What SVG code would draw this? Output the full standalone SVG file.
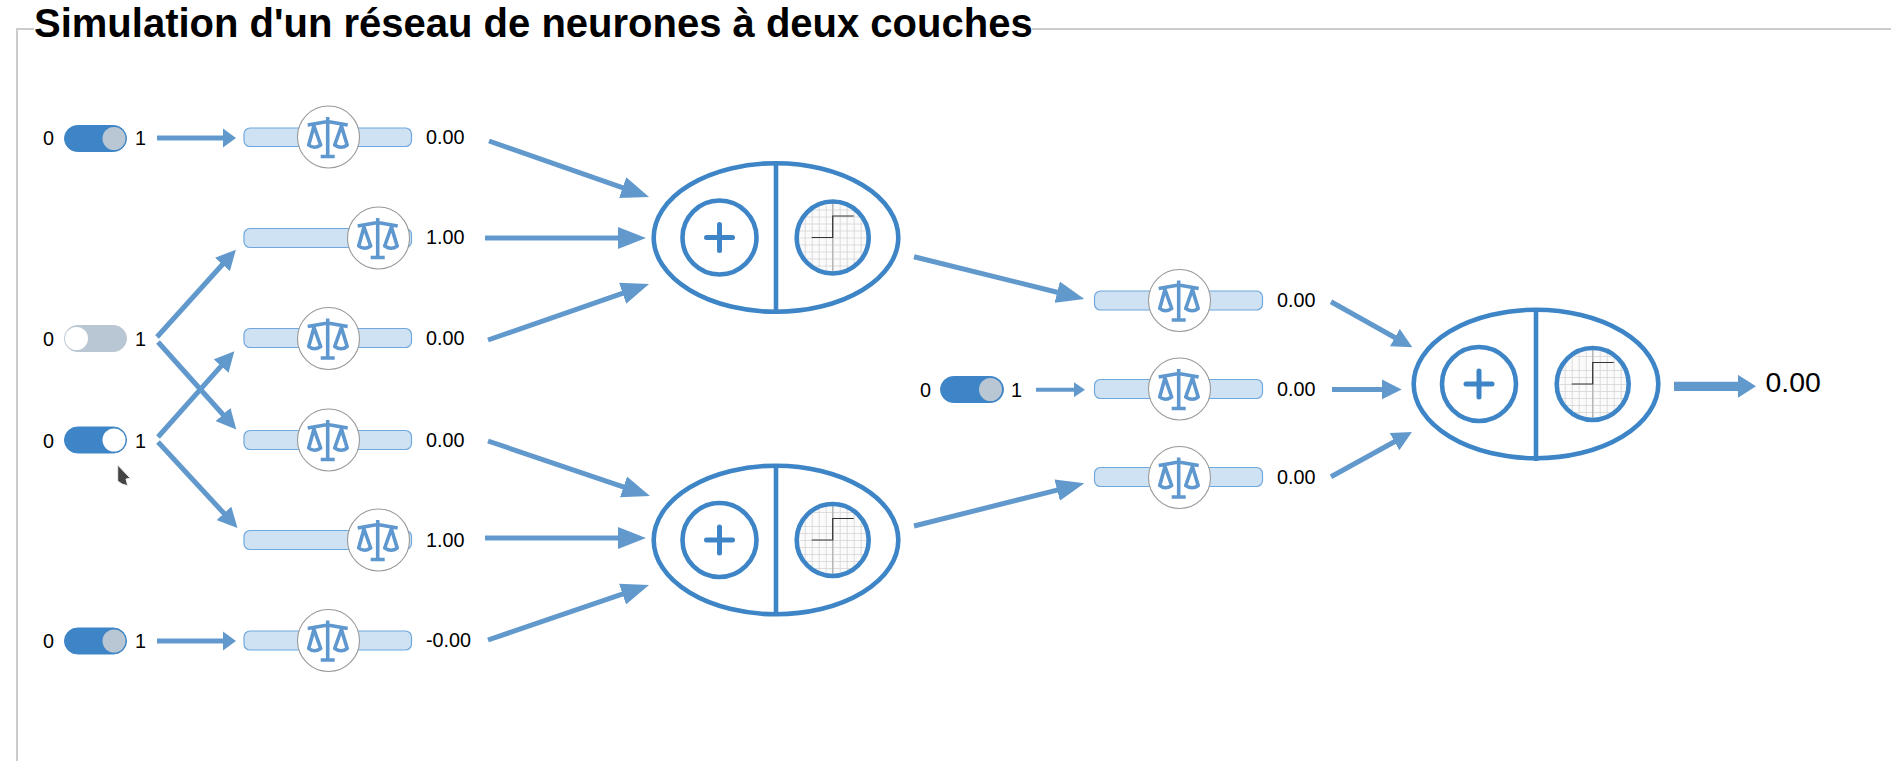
<svg xmlns="http://www.w3.org/2000/svg" width="1891" height="761" viewBox="0 0 1891 761">
<style>
text{font-family:"Liberation Sans",Arial,sans-serif;fill:#000}
.title{font-size:40px;font-weight:700}
.t{font-size:19.8px}
.big{font-size:28.400px}
.frame{fill:none;stroke:#ccc;stroke-width:2}
.wire{fill:none;stroke:#6299cd;stroke-width:5}
.track{fill:#cfe2f3;stroke:#6fa8dc;stroke-width:1.200}
.knob{fill:#fff;stroke:#999;stroke-width:1.100}
.scale{fill:none;stroke:#5f97cf;stroke-width:3.600;stroke-linejoin:round}
.n{fill:none;stroke:#3d85c6;stroke-width:4.600}
.tg-on{fill:#3d85c6;stroke:#3d85c6;stroke-width:1}
.tg-off{fill:#b9c6d3;stroke:#b9c6d3;stroke-width:1}
</style>
<defs>
<marker id="long" markerUnits="userSpaceOnUse" markerWidth="28" markerHeight="22" refX="2" refY="11" orient="auto"><path d="M0 0L28 11L0 22Z" fill="#6299cd"/></marker>
<marker id="mid" markerUnits="userSpaceOnUse" markerWidth="20" markerHeight="20" refX="2" refY="10" orient="auto"><path d="M0 0L20 10L0 20Z" fill="#6299cd"/></marker>
<marker id="hor" markerUnits="userSpaceOnUse" markerWidth="13.500" markerHeight="20" refX="2" refY="10" orient="auto"><path d="M0 .2L13.500 10L0 19.800Z" fill="#6299cd"/></marker>
<marker id="small" markerUnits="userSpaceOnUse" markerWidth="11" markerHeight="15" refX="2" refY="7.500" orient="auto"><path d="M0 0L11 7.500L0 15Z" fill="#6299cd"/></marker>
<marker id="out" markerUnits="userSpaceOnUse" markerWidth="18" markerHeight="23" refX="2" refY="11.500" orient="auto"><path d="M0 0L18 11.500L0 23Z" fill="#6299cd"/></marker>
<pattern id="grid" patternUnits="userSpaceOnUse" width="7" height="7"><rect width="7" height="7" fill="#fbfbfb"/><path d="M0 0H7M0 0V7" stroke="#d4d4d4" stroke-width="1.600" fill="none"/></pattern>
<symbol id="scales" overflow="visible">
<path class="scale" d="M0-20V19.500M-7 19.500H7M-20-12L0-15.500L20-12M-13.700-11L-19 8Q-13.700 12.500-7 8ZM13.700-11L7 8Q13.700 12.500 19.500 8Z"/>
</symbol>
<g id="sum">
<circle r="37" class="n"/>
<path d="M-13 0H13M0-13V13" stroke="#3d85c6" stroke-width="5" stroke-linecap="round"/>
</g>
<g id="step">
<circle r="36" fill="url(#grid)"/>
<path d="M0-36V36" stroke="#b4b4b4" stroke-width="1.300"/>
<path d="M-21 0H0V-21.500H21" fill="none" stroke="#333" stroke-width="1.200"/>
<circle r="36" class="n"/>
</g>
</defs>

<path class="frame" d="M34 29H17V761M1032 29H1891"/>
<text class="title" x="34" y="37">Simulation d'un réseau de neurones à deux couches</text>

<g id="connectors">
<path class="wire" marker-end="url(#hor)" d="M157 138H224.500"/>
<path class="wire" marker-end="url(#hor)" d="M157 641H224.500"/>
<path class="wire" marker-end="url(#mid)" d="M157 337L223.800 263"/>
<path class="wire" marker-end="url(#mid)" d="M158 342L224.300 416"/>
<path class="wire" marker-end="url(#mid)" d="M158 437L222.400 364.600"/>
<path class="wire" marker-end="url(#mid)" d="M158 442L225.300 514.800"/>
<path class="wire" marker-end="url(#long)" d="M489 141L624.500 188.400"/>
<path class="wire" marker-end="url(#long)" d="M485 238H620"/>
<path class="wire" marker-end="url(#long)" d="M488 340L624.500 292.600"/>
<path class="wire" marker-end="url(#long)" d="M488 441L625.400 487.600"/>
<path class="wire" marker-end="url(#long)" d="M485 538H620"/>
<path class="wire" marker-end="url(#long)" d="M488 640L624.400 593.400"/>
<path class="wire" marker-end="url(#long)" d="M914 256.700L1059.100 292.700"/>
<path class="wire" marker-end="url(#long)" d="M914 526L1059.100 489.600"/>
<path class="wire" style="stroke-width:4" marker-end="url(#small)" d="M1036 389.700H1076"/>
<path class="wire" marker-end="url(#mid)" d="M1331 301.700L1396.600 338.500"/>
<path class="wire" marker-end="url(#mid)" d="M1332 389.400H1383.700"/>
<path class="wire" marker-end="url(#mid)" d="M1331 476.700L1396.200 440.700"/>
<path class="wire" style="stroke-width:9.300" marker-end="url(#out)" d="M1674 386.300H1740"/>
</g>

<g id="toggle-a">
<text class="t" x="43" y="145">0</text>
<rect class="tg-on" x="64.500" y="125.500" width="62" height="26" rx="13"/>
<circle cx="114" cy="138.500" r="11.500" fill="#b9c6d3"/>
<text class="t" x="135" y="145">1</text>
</g>
<g id="toggle-b">
<text class="t" x="43" y="346">0</text>
<rect class="tg-off" x="64.500" y="325.500" width="62" height="26" rx="13"/>
<circle cx="76.500" cy="338.500" r="11.500" fill="#fff"/>
<text class="t" x="135" y="346">1</text>
</g>
<g id="toggle-c">
<text class="t" x="43" y="447.500">0</text>
<rect class="tg-on" x="64.500" y="427" width="62" height="26" rx="13"/>
<circle cx="114" cy="440" r="11.500" fill="#fff"/>
<text class="t" x="135" y="447.500">1</text>
</g>
<g id="toggle-d">
<text class="t" x="43" y="648">0</text>
<rect class="tg-on" x="64.500" y="628" width="62" height="26" rx="13"/>
<circle cx="114" cy="641" r="11.500" fill="#b9c6d3"/>
<text class="t" x="135" y="648">1</text>
</g>
<g id="toggle-e">
<text class="t" x="920" y="397">0</text>
<rect class="tg-on" x="940.500" y="376.500" width="63" height="26" rx="13"/>
<circle cx="990.500" cy="389.500" r="11.500" fill="#b9c6d3"/>
<text class="t" x="1011" y="397">1</text>
</g>

<g id="weight-1"><rect class="track" x="244" y="128" width="167.500" height="18.500" rx="6"/><circle class="knob" cx="328.500" cy="137" r="31"/><use href="#scales" x="327.700" y="137"/><text class="t" x="426" y="144">0.00</text></g>
<g id="weight-2"><rect class="track" x="244" y="228.500" width="167.500" height="19" rx="6"/><circle class="knob" cx="378.500" cy="238" r="31"/><use href="#scales" x="377.700" y="238"/><text class="t" x="426" y="244">1.00</text></g>
<g id="weight-3"><rect class="track" x="244" y="328.500" width="167.500" height="19" rx="6"/><circle class="knob" cx="328.500" cy="338.500" r="31"/><use href="#scales" x="327.700" y="338.500"/><text class="t" x="426" y="345">0.00</text></g>
<g id="weight-4"><rect class="track" x="244" y="430.500" width="167.500" height="19" rx="6"/><circle class="knob" cx="328.500" cy="440" r="31"/><use href="#scales" x="327.700" y="440"/><text class="t" x="426" y="447">0.00</text></g>
<g id="weight-5"><rect class="track" x="244" y="530.500" width="167.500" height="19" rx="6"/><circle class="knob" cx="378.500" cy="540" r="31"/><use href="#scales" x="377.700" y="540"/><text class="t" x="426" y="547">1.00</text></g>
<g id="weight-6"><rect class="track" x="244" y="631" width="167.500" height="19" rx="6"/><circle class="knob" cx="328.500" cy="640.500" r="31"/><use href="#scales" x="327.700" y="640.500"/><text class="t" x="426" y="647">-0.00</text></g>
<g id="weight-7"><rect class="track" x="1094.500" y="291" width="168" height="19" rx="6"/><circle class="knob" cx="1179.500" cy="300.500" r="31"/><use href="#scales" x="1178.700" y="300.500"/><text class="t" x="1277" y="307">0.00</text></g>
<g id="weight-8"><rect class="track" x="1094.500" y="379.500" width="168" height="19" rx="6"/><circle class="knob" cx="1179.500" cy="389" r="31"/><use href="#scales" x="1178.700" y="389"/><text class="t" x="1277" y="396">0.00</text></g>
<g id="weight-9"><rect class="track" x="1094.500" y="467.500" width="168" height="19" rx="6"/><circle class="knob" cx="1179.500" cy="477.500" r="31"/><use href="#scales" x="1178.700" y="477.500"/><text class="t" x="1277" y="484">0.00</text></g>

<g id="neuron-1"><ellipse class="n" cx="776" cy="237.500" rx="122.300" ry="74.300"/><path class="n" d="M776 161V314"/><use href="#sum" x="719.500" y="237.500"/><use href="#step" x="832.700" y="237.500"/></g>
<g id="neuron-2"><ellipse class="n" cx="776" cy="540" rx="122.300" ry="74.300"/><path class="n" d="M776 464V616"/><use href="#sum" x="719.500" y="540"/><use href="#step" x="832.700" y="540"/></g>
<g id="neuron-3"><ellipse class="n" cx="1536" cy="384" rx="122.300" ry="74.300"/><path class="n" d="M1536 308V461"/><use href="#sum" x="1479" y="384"/><use href="#step" x="1592.700" y="384"/></g>

<text id="output" class="big" x="1765.500" y="392">0.00</text>
<path id="cursor" d="M117.700 465L130.300 478.300L126 479L127.700 485.700L122 484L117.700 481Z" fill="#444" stroke="#eee" stroke-width="1"/>
</svg>
